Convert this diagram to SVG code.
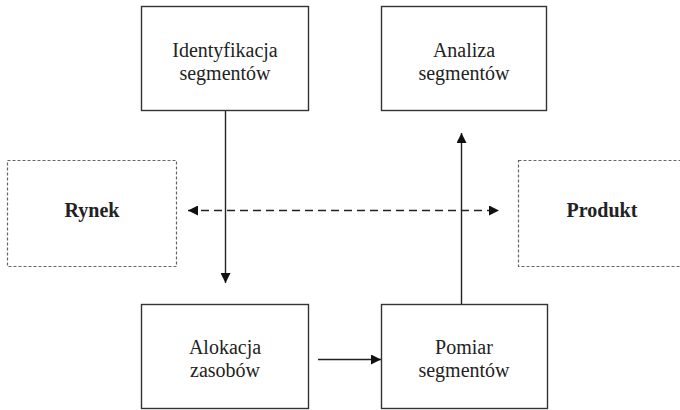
<svg xmlns="http://www.w3.org/2000/svg" width="680" height="410" viewBox="0 0 680 410">
<style>
.box{fill:#fff;stroke:#333;stroke-width:1.4}
.dbox{fill:#fff;stroke:#666;stroke-width:1.2;stroke-dasharray:3 2}
.t{font-family:'Liberation Serif','DejaVu Serif','Times New Roman',Times,serif;font-size:20px;fill:#222;text-anchor:middle}
.b{font-weight:bold}
.ln{stroke:#222;stroke-width:1.4;fill:none}
.dl{stroke:#222;stroke-width:1.4;fill:none;stroke-dasharray:8 5}
</style>
<defs>
<marker id="ah" viewBox="0 0 10 10" refX="10" refY="5" markerWidth="10" markerHeight="10" markerUnits="userSpaceOnUse" orient="auto-start-reverse">
<path d="M0,0 L10,5 L0,10 z" fill="#111"/>
</marker>
</defs>
<rect width="680" height="410" fill="#fff"/>
<g id="rynek"><rect class="dbox" x="7.5" y="160.5" width="169" height="106"/><text class="t b" font-family="Liberation Serif, serif" x="92" y="217">Rynek</text></g>
<g id="produkt"><rect class="dbox" x="518.5" y="160.5" width="170" height="106"/><text class="t b" font-family="Liberation Serif, serif" x="602" y="217">Produkt</text></g>
<g id="connectors">
<line class="ln" x1="225.5" y1="111" x2="225.5" y2="283" marker-end="url(#ah)"/>
<line class="ln" x1="461.5" y1="304" x2="461.5" y2="133" marker-end="url(#ah)"/>
<line class="ln" x1="318" y1="359.5" x2="381" y2="359.5" marker-end="url(#ah)"/>
<line class="dl" x1="188" y1="210.5" x2="499" y2="210.5" marker-start="url(#ah)" marker-end="url(#ah)"/>
</g>
<g id="identyfikacja"><rect class="box" x="141.5" y="6.5" width="167" height="104"/><text class="t" x="225" y="57">Identyfikacja</text><text class="t" x="225" y="80">segmentów</text></g>
<g id="analiza"><rect class="box" x="381.5" y="6.5" width="165" height="104"/><text class="t" x="464" y="57">Analiza</text><text class="t" x="464" y="80">segmentów</text></g>
<g id="alokacja"><rect class="box" x="141.5" y="304.5" width="167" height="104"/><text class="t" x="225" y="354">Alokacja</text><text class="t" x="225" y="377">zasobów</text></g>
<g id="pomiar"><rect class="box" x="381.5" y="304.5" width="166" height="104"/><text class="t" x="464" y="354">Pomiar</text><text class="t" x="464" y="377">segmentów</text></g>
</svg>
